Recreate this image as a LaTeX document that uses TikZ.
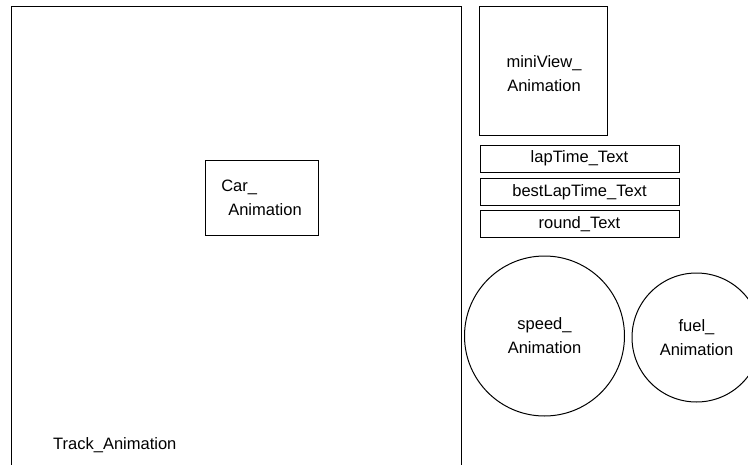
\documentclass[tikz,border=0pt]{standalone}
\usepackage{fontspec}
\setmainfont{Liberation Sans}
\usetikzlibrary{shapes,positioning}

\begin{document}
\begin{tikzpicture}[x=1pt, y=-1pt,
    panel/.style={draw, line width=1pt, inner sep=0pt, font=\fontsize{16.5}{24}\selectfont, align=center},
    bar/.style={panel, minimum width=199pt, minimum height=27pt},
    gauge/.style={panel, circle}]
  \useasboundingbox (0,0) rectangle (748,464);
  \clip (0,0) rectangle (748,464);

  % Track area (left)
  \node[panel, minimum width=450pt, minimum height=470pt] (track) at (236,241) {};
  \node[font=\fontsize{16.5}{20}\selectfont, anchor=west, inner sep=0pt] (tracklbl) at (53,445) {Track\_Animation};
  \node[panel, minimum width=113pt, minimum height=75pt, align=left] (car) at (261.5,197.5) {Car\_\\\hspace{7pt}Animation};

  % Info panel (right)
  \node[panel, minimum width=128pt, minimum height=129pt] (miniview) at (543,70.5) {};
  \node (minitxt) at (544,74) [font=\fontsize{16.5}{24}\selectfont, align=center] {miniView\_\\Animation};
  \node[bar] (laptime) at (579.5,158.5) {lapTime\_Text};
  \node[bar] (bestlap) at (579.5,192) {bestLapTime\_Text};
  \node[bar] (roundtxt) at (579.5,224) {round\_Text};

  % Gauges
  \node[gauge, minimum size=160pt] (speed) at (544.5,336) {speed\_\\Animation};
  \node[gauge, minimum size=129pt] (fuel) at (696.5,337.5) {fuel\_\\Animation};
\end{tikzpicture}
\end{document}
